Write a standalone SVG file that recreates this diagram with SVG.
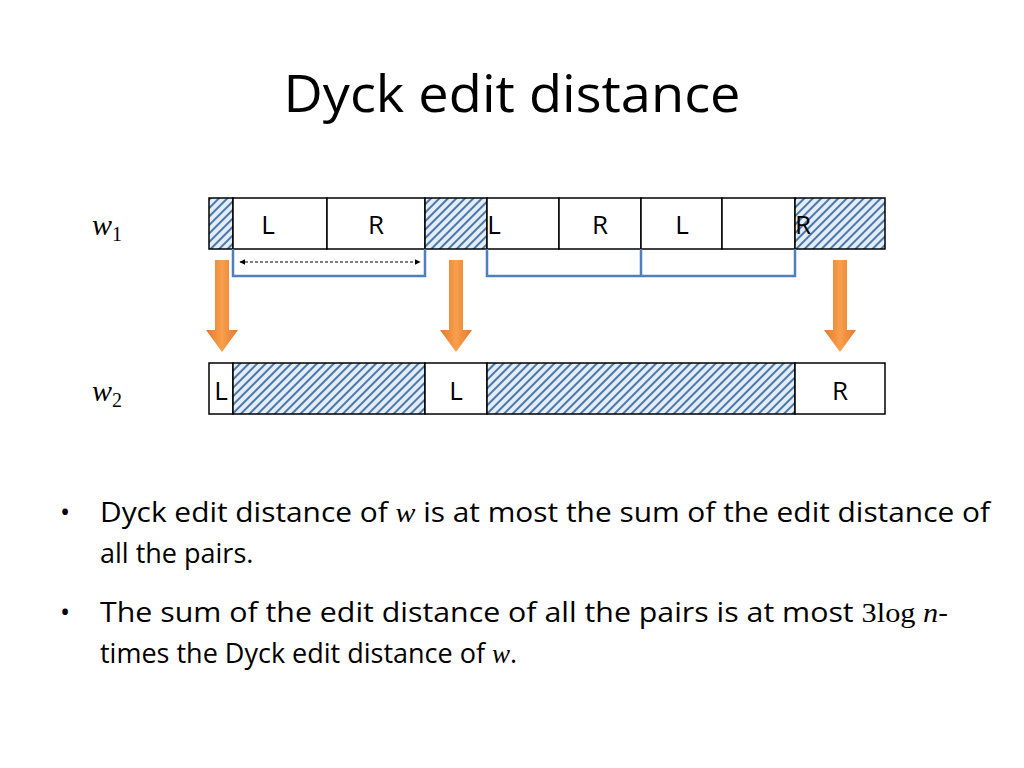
<svg xmlns="http://www.w3.org/2000/svg" width="1024" height="768" viewBox="0 0 1024 768">
<defs>
<pattern id="h" width="6" height="6" patternUnits="userSpaceOnUse" patternTransform="rotate(45)">
<rect width="6" height="6" fill="#e4ecf6"/><rect width="2" height="6" fill="#4a78ab"/>
</pattern>
<linearGradient id="og" x1="0" x2="1"><stop offset="0" stop-color="#e8762a"/><stop offset="0.5" stop-color="#f7a04c"/><stop offset="1" stop-color="#e8762a"/></linearGradient>
<marker id="ah" viewBox="0 0 10 10" refX="9" refY="5" markerWidth="6" markerHeight="6" orient="auto-start-reverse"><path d="M0,0L10,5L0,10z" fill="#000"/></marker>
<style>
.c{stroke:#000;stroke-width:1.5;fill:#fff}
.s{stroke:#000;stroke-width:1.5;fill:url(#h)}
.t{font-family:"Open Sans","Liberation Sans",sans-serif;font-size:26px;text-anchor:middle}
.b{font-family:"Open Sans","Liberation Sans",sans-serif;font-size:27px}
.m{font-family:"Liberation Serif",serif;font-style:italic}
.br{fill:none;stroke:#4f7fbf;stroke-width:2.5}
</style>
</defs>
<text x="512" y="112" font-family="Open Sans, Liberation Sans, sans-serif" font-size="52" text-anchor="middle" textLength="457" lengthAdjust="spacingAndGlyphs">Dyck edit distance</text>
<text x="92" y="235" font-family="Liberation Serif,serif" font-style="italic" font-size="30">w<tspan font-style="normal" font-size="20" dy="6">1</tspan></text>
<text x="92" y="401" font-family="Liberation Serif,serif" font-style="italic" font-size="30">w<tspan font-style="normal" font-size="20" dy="6">2</tspan></text>
<g id="w1">
<rect class="s" x="209" y="198" width="24" height="51"/>
<rect class="c" x="233" y="198" width="94" height="51"/>
<rect class="c" x="327" y="198" width="98" height="51"/>
<rect class="s" x="425" y="198" width="62" height="51"/>
<rect class="c" x="487" y="198" width="72" height="51"/>
<rect class="c" x="559" y="198" width="82" height="51"/>
<rect class="c" x="641" y="198" width="81" height="51"/>
<rect class="c" x="722" y="198" width="73" height="51"/>
<rect class="s" x="795" y="198" width="90" height="51"/>
<text class="t" x="268" y="234">L</text><text class="t" x="376" y="234">R</text>
<text class="t" x="494" y="234">L</text><text class="t" x="600" y="234">R</text>
<text class="t" x="682" y="234">L</text><text class="t" x="803" y="234">R</text>
</g>
<g id="w2">
<rect class="c" x="209" y="363" width="24" height="51"/>
<rect class="s" x="233" y="363" width="192" height="51"/>
<rect class="c" x="425" y="363" width="62" height="51"/>
<rect class="s" x="487" y="363" width="308" height="51"/>
<rect class="c" x="795" y="363" width="90" height="51"/>
<text class="t" x="221" y="400">L</text><text class="t" x="456" y="400">L</text><text class="t" x="840" y="400">R</text>
</g>
<g id="connectors">
<path class="br" d="M233,249V276H425V249"/>
<path class="br" d="M487,249V276H795V249M641,249V276"/>
<line x1="240" y1="262" x2="420" y2="262" stroke="#000" stroke-width="1" stroke-dasharray="3,2" marker-start="url(#ah)" marker-end="url(#ah)"/>
<path d="M215,260h14v70h9l-16,22l-16,-22h9z" fill="url(#og)"/>
<path d="M449,260h14v70h9l-16,22l-16,-22h9z" fill="url(#og)"/>
<path d="M833,260h14v70h9l-16,22l-16,-22h9z" fill="url(#og)"/>
</g>
<g class="b">
<text x="60" y="522">•</text>
<text x="100" y="522" textLength="890" lengthAdjust="spacingAndGlyphs">Dyck edit distance of <tspan class="m">w</tspan> is at most the sum of the edit distance of</text>
<text x="100" y="563">all the pairs.</text>
<text x="60" y="622">•</text>
<text x="100" y="622" textLength="848" lengthAdjust="spacingAndGlyphs">The sum of the edit distance of all the pairs is at most <tspan font-family="Liberation Serif,serif">3log </tspan><tspan class="m">n</tspan>-</text>
<text x="100" y="663">times the Dyck edit distance of <tspan class="m">w</tspan>.</text>
</g>
</svg>
